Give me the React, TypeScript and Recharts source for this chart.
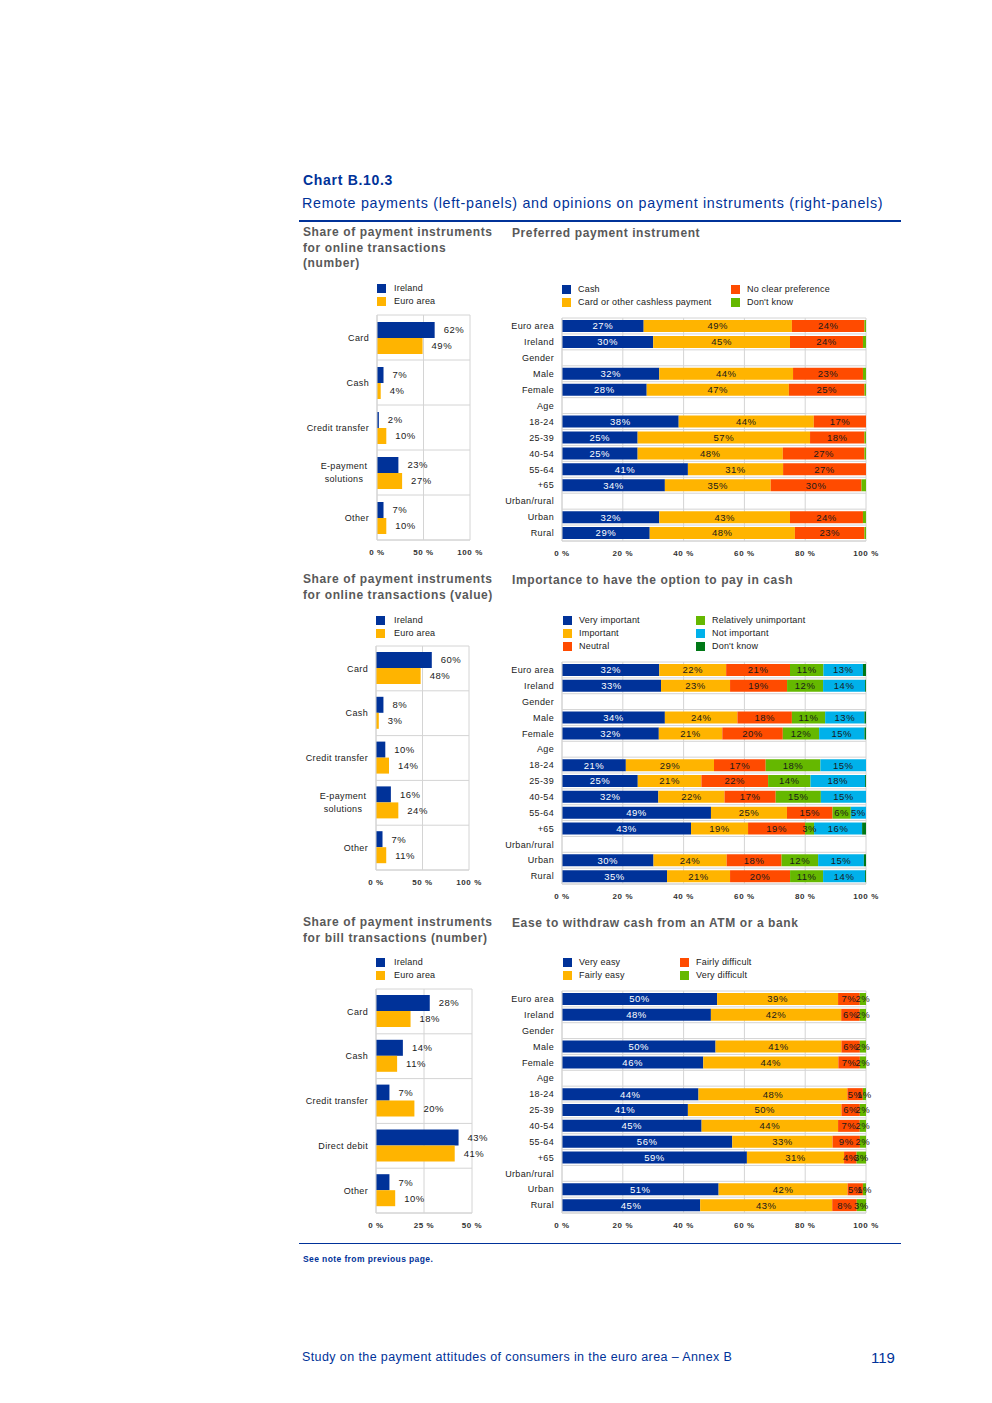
import React from 'react';
import { BarChart, Bar, XAxis, YAxis, CartesianGrid, LabelList } from 'recharts';

// Farben wie im Original (EZB-Palette)
const BLUE = '#003299';
const YELLOW = '#FFB400';
const ORANGE = '#FF4B00';
const GREEN = '#65B800';
const SKY = '#00B1EA';
const DKGREEN = '#007816';

const FONT = '"Liberation Sans", Arial, Helvetica, sans-serif';
const GRID = '#d4d4d4';
const INK = '#1a1a1a';

// ---- linke Panels: Ireland vs Euro area ----
const leftSeries = ['Ireland', 'Euro area'];

const onlineNumCats = ['Card', 'Cash', 'Credit transfer', 'E-payment solutions', 'Other'];
const onlineNumIreland = [62, 7, 2, 23, 7];
const onlineNumEuro = [49, 4, 10, 27, 10];

const onlineValCats = ['Card', 'Cash', 'Credit transfer', 'E-payment solutions', 'Other'];
const onlineValIreland = [60, 8, 10, 16, 7];
const onlineValEuro = [48, 3, 14, 24, 11];

const billCats = ['Card', 'Cash', 'Credit transfer', 'Direct debit', 'Other'];
const billIreland = [28, 14, 7, 43, 7];
const billEuro = [18, 11, 20, 41, 10];

const ticks100 = [0, 50, 100];
const ticks50 = [0, 25, 50];

// ---- rechte Panels: gestapelte 100%-Balken ----
const groups = ['Euro area', 'Ireland', 'Gender', 'Male', 'Female', 'Age', '18-24', '25-39', '40-54', '55-64', '+65', 'Urban/rural', 'Urban', 'Rural'];

const prefCash = [27, 30, null, 32, 28, null, 38, 25, 25, 41, 34, null, 32, 29];
const prefCard = [49, 45, null, 44, 47, null, 44, 57, 48, 31, 35, null, 43, 48];
const prefNone = [24, 24, null, 23, 25, null, 17, 18, 27, 27, 30, null, 24, 23];
const prefDk = [0.5, 1, null, 1, 0.5, null, 0, 0.5, 0.5, 0, 1.5, null, 1, 0.5];

const impVery = [32, 33, null, 34, 32, null, 21, 25, 32, 49, 43, null, 30, 35];
const impImp = [22, 23, null, 24, 21, null, 29, 21, 22, 25, 19, null, 24, 21];
const impNeutral = [21, 19, null, 18, 20, null, 17, 22, 17, 15, 19, null, 18, 20];
const impRel = [11, 12, null, 11, 12, null, 18, 14, 15, 6, 3, null, 12, 11];
const impNot = [13, 14, null, 13, 15, null, 15, 18, 15, 5, 16, null, 15, 14];
const impDk = [1, 0.3, null, 0.5, 0.5, null, 0, 0.3, 0, 0, 1.3, null, 0.7, 0.3];

const easeVery = [50, 48, null, 50, 46, null, 44, 41, 45, 56, 59, null, 51, 45];
const easeFairly = [39, 42, null, 41, 44, null, 48, 50, 44, 33, 31, null, 42, 43];
const easeDiff = [7, 6, null, 6, 7, null, 5, 6, 7, 9, 4, null, 5, 8];
const easeVeryDiff = [2, 2, null, 2, 2, null, 1, 2, 2, 2, 3, null, 1, 3];

const pctTicks = [0, 0.2, 0.4, 0.6, 0.8, 1];

type Series = { key: string; name: string; color: string; values: (number | null)[]; label: boolean; text: string };

const prefSeries: Series[] = [
  { key: 's0', name: 'Cash', color: BLUE, values: prefCash, label: true, text: '#fff' },
  { key: 's1', name: 'Card or other cashless payment', color: YELLOW, values: prefCard, label: true, text: INK },
  { key: 's2', name: 'No clear preference', color: ORANGE, values: prefNone, label: true, text: INK },
  { key: 's3', name: "Don't know", color: GREEN, values: prefDk, label: false, text: INK },
];
const impSeries: Series[] = [
  { key: 's0', name: 'Very important', color: BLUE, values: impVery, label: true, text: '#fff' },
  { key: 's1', name: 'Important', color: YELLOW, values: impImp, label: true, text: INK },
  { key: 's2', name: 'Neutral', color: ORANGE, values: impNeutral, label: true, text: INK },
  { key: 's3', name: 'Relatively unimportant', color: GREEN, values: impRel, label: true, text: INK },
  { key: 's4', name: 'Not important', color: SKY, values: impNot, label: true, text: INK },
  { key: 's5', name: "Don't know", color: DKGREEN, values: impDk, label: false, text: INK },
];
const easeSeries: Series[] = [
  { key: 's0', name: 'Very easy', color: BLUE, values: easeVery, label: true, text: '#fff' },
  { key: 's1', name: 'Fairly easy', color: YELLOW, values: easeFairly, label: true, text: INK },
  { key: 's2', name: 'Fairly difficult', color: ORANGE, values: easeDiff, label: true, text: INK },
  { key: 's3', name: 'Very difficult', color: GREEN, values: easeVeryDiff, label: true, text: INK },
];

// Gitterlinien an den Kategoriegrenzen statt an den Tick-Mitten
const bandLines = (n: number) => ({ offset }: any) =>
  Array.from({ length: n + 1 }, (_, i) => offset.top + (i * offset.height) / n);

const CatTick = (props: any) => {
  const { x, y, payload } = props;
  const text = String(payload.value);
  const st = { letterSpacing: '0.35px' };
  if (text.length > 16) {
    const words = text.split(' ');
    const cx = x - 25;
    return (
      <text x={cx} y={y} textAnchor="middle" fontSize={9} fill={INK} fontFamily={FONT} style={st}>
        <tspan x={cx} y={y - 3.5}>{words.slice(0, -1).join(' ')}</tspan>
        <tspan x={cx} y={y + 9.5}>{words[words.length - 1]}</tspan>
      </text>
    );
  }
  return (
    <text x={x} y={y} dy={3.2} textAnchor="end" fontSize={9} fill={INK} fontFamily={FONT} style={st}>
      {text}
    </text>
  );
};

const AxisTick = (props: any) => {
  const { x, y, payload, fmt } = props;
  return (
    <text x={x} y={y} dy={7} textAnchor="middle" fontSize={8} fontWeight="bold" fill="#333" fontFamily={FONT} style={{ letterSpacing: '0.6px' }}>
      {fmt(payload.value)}
    </text>
  );
};

const labelStyle = { letterSpacing: '0.5px' };

function LeftPanel({ cats, ireland, euro, max, ticks, plotLeft, plotRight, plotTop, plotHeight }: any) {
  const data = cats.map((name: string, i: number) => ({ name, ireland: ireland[i], euro: euro[i] }));
  const chartLeft = 290;
  const mTop = 10;
  const mRight = 30;
  const axisH = 20;
  const yW = plotLeft - chartLeft;
  const fmt = (v: number) => `${v} %`;
  return (
    <div style={{ position: 'absolute', left: chartLeft, top: plotTop - mTop }}>
      <BarChart
        layout="vertical"
        data={data}
        width={yW + plotRight - plotLeft + mRight}
        height={mTop + plotHeight + axisH}
        margin={{ top: mTop, right: mRight, bottom: 0, left: 0 }}
        barGap={0}
      >
        <CartesianGrid stroke={GRID} horizontalCoordinatesGenerator={bandLines(cats.length)} />
        <XAxis
          type="number"
          domain={[0, max]}
          ticks={ticks}
          tickLine={false}
          axisLine={{ stroke: GRID }}
          tick={(p: any) => <AxisTick {...p} fmt={fmt} />}
          height={axisH}
          interval={0}
        />
        <YAxis
          type="category"
          dataKey="name"
          width={yW}
          tickLine={false}
          axisLine={{ stroke: GRID }}
          interval={0}
          tick={(p: any) => <CatTick {...p} />}
        />
        <Bar dataKey="ireland" name={leftSeries[0]} fill={BLUE} barSize={16} isAnimationActive={false}>
          <LabelList dataKey="ireland" position="right" offset={9} formatter={(v: any) => `${v}%`} fontSize={9.5} fill={INK} fontFamily={FONT} style={labelStyle} />
        </Bar>
        <Bar dataKey="euro" name={leftSeries[1]} fill={YELLOW} barSize={16} isAnimationActive={false}>
          <LabelList dataKey="euro" position="right" offset={9} formatter={(v: any) => `${v}%`} fontSize={9.5} fill={INK} fontFamily={FONT} style={labelStyle} />
        </Bar>
      </BarChart>
    </div>
  );
}

function RightPanel({ series, plotTop, plotHeight }: { series: Series[]; plotTop: number; plotHeight: number }) {
  const data = groups.map((name, i) => {
    const row: any = { name };
    series.forEach((s) => (row[s.key] = s.values[i]));
    return row;
  });
  const chartLeft = 490;
  const plotLeft = 562;
  const plotRight = 866;
  const mTop = 8;
  const mRight = 14;
  const axisH = 20;
  const yW = plotLeft - chartLeft;
  const fmt = (v: number) => `${Math.round(v * 100)} %`;
  return (
    <div style={{ position: 'absolute', left: chartLeft, top: plotTop - mTop }}>
      <BarChart
        layout="vertical"
        stackOffset="expand"
        data={data}
        width={yW + plotRight - plotLeft + mRight}
        height={mTop + plotHeight + axisH}
        margin={{ top: mTop, right: mRight, bottom: 0, left: 0 }}
      >
        <CartesianGrid stroke={GRID} horizontalCoordinatesGenerator={bandLines(groups.length)} />
        <XAxis
          type="number"
          domain={[0, 1]}
          ticks={pctTicks}
          tickLine={false}
          axisLine={{ stroke: GRID }}
          tick={(p: any) => <AxisTick {...p} fmt={fmt} />}
          height={axisH}
          interval={0}
        />
        <YAxis
          type="category"
          dataKey="name"
          width={yW}
          tickLine={false}
          axisLine={{ stroke: GRID }}
          interval={0}
          tick={(p: any) => <CatTick {...p} />}
        />
        {series.map((s) => (
          <Bar key={s.key} dataKey={s.key} name={s.name} stackId="a" fill={s.color} barSize={12} isAnimationActive={false}>
            {s.label && (
              <LabelList
                dataKey={s.key}
                position="center"
                formatter={(v: any) => (v == null || v === 0 ? '' : `${Math.round(v)}%`)}
                fontSize={9.5}
                fill={s.text}
                fontFamily={FONT}
                style={labelStyle}
              />
            )}
          </Bar>
        ))}
      </BarChart>
    </div>
  );
}

function Legend({ items, cols, rows, textDx = 16 }: { items: { name: string; color: string }[]; cols: number[]; rows: number[]; textDx?: number }) {
  return (
    <>
      {items.map((it, i) => {
        const c = Math.floor(i / rows.length);
        const r = i % rows.length;
        const x = cols[c];
        const y = rows[r];
        return (
          <React.Fragment key={it.name}>
            <div style={{ position: 'absolute', left: x, top: y - 4.5, width: 9, height: 9, background: it.color }} />
            <div style={{ position: 'absolute', left: x + textDx, top: y - 6, fontSize: 9, lineHeight: '12px', color: INK, fontFamily: FONT, whiteSpace: 'nowrap', letterSpacing: '0.2px' }}>
              {it.name}
            </div>
          </React.Fragment>
        );
      })}
    </>
  );
}

const leftLegend = [
  { name: leftSeries[0], color: BLUE },
  { name: leftSeries[1], color: YELLOW },
];

// y = Mitte der ersten Zeile
function Txt({ x, y, size, color, bold, children, lh, ls = 0 }: any) {
  const lineH = lh ?? Math.round(size * 1.15);
  return (
    <div
      style={{
        position: 'absolute',
        left: x,
        top: y - lineH / 2,
        fontSize: size,
        lineHeight: `${lineH}px`,
        color,
        fontWeight: bold ? 'bold' : 'normal',
        fontFamily: FONT,
        whiteSpace: 'pre',
        letterSpacing: `${ls}px`,
      }}
    >
      {children}
    </div>
  );
}

const PANEL_TITLE = '#595959';

export default function App() {
  return (
    <div style={{ position: 'absolute', left: 0, top: 0, width: 992, height: 1403, background: '#fff', fontFamily: FONT }}>
      <Txt x={303} y={180} size={14} color={BLUE} bold ls={0.7}>Chart B.10.3</Txt>
      <Txt x={302} y={203} size={14.3} color={BLUE} ls={0.7}>Remote payments (left-panels) and opinions on payment instruments (right-panels)</Txt>
      <div style={{ position: 'absolute', left: 299, top: 220, width: 602, height: 2, background: BLUE }} />

      {/* Reihe 1 */}
      <Txt x={303} y={233} size={12} color={PANEL_TITLE} bold lh={15.5} ls={0.6}>{'Share of payment instruments\nfor online transactions\n(number)'}</Txt>
      <Txt x={512} y={233} size={12} color={PANEL_TITLE} bold ls={0.6}>Preferred payment instrument</Txt>
      <Legend items={leftLegend} cols={[377]} rows={[288, 301]} textDx={17} />
      <Legend items={prefSeries} cols={[562, 731]} rows={[289, 302]} textDx={16} />
      <LeftPanel cats={onlineNumCats} ireland={onlineNumIreland} euro={onlineNumEuro} max={100} ticks={ticks100} plotLeft={377} plotRight={470} plotTop={315} plotHeight={225} />
      <RightPanel series={prefSeries} plotTop={318} plotHeight={223} />

      {/* Reihe 2 */}
      <Txt x={303} y={580} size={12} color={PANEL_TITLE} bold lh={15.5} ls={0.6}>{'Share of payment instruments\nfor online transactions (value)'}</Txt>
      <Txt x={512} y={580} size={12} color={PANEL_TITLE} bold ls={0.6}>Importance to have the option to pay in cash</Txt>
      <Legend items={leftLegend} cols={[376]} rows={[620, 633]} textDx={18} />
      <Legend items={impSeries} cols={[563, 696]} rows={[620, 633, 646]} textDx={16} />
      <LeftPanel cats={onlineValCats} ireland={onlineValIreland} euro={onlineValEuro} max={100} ticks={ticks100} plotLeft={376} plotRight={469} plotTop={646} plotHeight={224} />
      <RightPanel series={impSeries} plotTop={662} plotHeight={222} />

      {/* Reihe 3 */}
      <Txt x={303} y={923} size={12} color={PANEL_TITLE} bold lh={15.5} ls={0.6}>{'Share of payment instruments\nfor bill transactions (number)'}</Txt>
      <Txt x={512} y={923} size={12} color={PANEL_TITLE} bold ls={0.6}>Ease to withdraw cash from an ATM or a bank</Txt>
      <Legend items={leftLegend} cols={[376]} rows={[962, 975]} textDx={18} />
      <Legend items={easeSeries} cols={[563, 680]} rows={[962, 975]} textDx={16} />
      <LeftPanel cats={billCats} ireland={billIreland} euro={billEuro} max={50} ticks={ticks50} plotLeft={376} plotRight={472} plotTop={989} plotHeight={224} />
      <RightPanel series={easeSeries} plotTop={991} plotHeight={222} />

      <div style={{ position: 'absolute', left: 299, top: 1243, width: 602, height: 1, background: BLUE }} />
      <Txt x={303} y={1259} size={8.5} color={BLUE} bold ls={0.4}>See note from previous page.</Txt>
      <Txt x={302} y={1357} size={12.5} color={BLUE} ls={0.4}>Study on the payment attitudes of consumers in the euro area – Annex B</Txt>
      <Txt x={871} y={1357} size={15} color={BLUE}>119</Txt>
    </div>
  );
}
